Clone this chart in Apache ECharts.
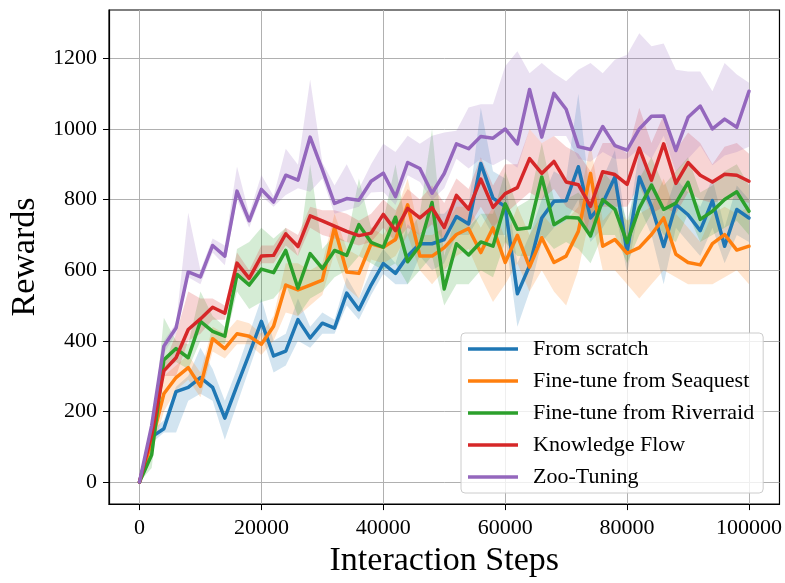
<!DOCTYPE html>
<html>
<head>
<meta charset="utf-8">
<script src="https://cdn.jsdelivr.net/npm/echarts@6/dist/echarts.min.js"></script>
<style>
  body { margin: 0; background: #fff; }
  #chart { width: 785px; height: 583px; }
</style>
</head>
<body>
<div id="chart"></div>
<script>
// interaction steps (x)
const steps = [0, 2000, 4000, 6000, 8000, 10000, 12000, 14000, 16000, 18000,
  20000, 22000, 24000, 26000, 28000, 30000, 32000, 34000, 36000, 38000,
  40000, 42000, 44000, 46000, 48000, 50000, 52000, 54000, 56000, 58000,
  60000, 62000, 64000, 66000, 68000, 70000, 72000, 74000, 76000, 78000,
  80000, 82000, 84000, 86000, 88000, 90000, 92000, 94000, 96000, 98000, 100000];
const xTicks = [0, 20000, 40000, 60000, 80000, 100000];
const yTicks = [0, 200, 400, 600, 800, 1000, 1200];

// From scratch
const scratch = [0, 128, 151, 256, 268, 296, 268, 181, 273, 362, 455, 357, 371, 460, 408, 450, 436, 535, 488, 558,
  619, 591, 640, 675, 675, 687, 752, 731, 902, 804, 780, 533, 613, 748, 795, 797, 893, 748, 790, 864,
  650, 864, 781, 667, 786, 757, 712, 797, 668, 772, 748];
const scratchLo = [0, 110, 140, 140, 230, 250, 230, 120, 220, 320, 420, 310, 330, 400, 380, 420, 420, 500, 460, 530,
  590, 560, 560, 640, 600, 620, 700, 700, 760, 700, 700, 440, 540, 680, 720, 740, 800, 680, 720, 780,
  590, 780, 700, 560, 720, 680, 640, 720, 620, 700, 680];
const scratchHi = [0, 145, 175, 270, 300, 380, 320, 230, 320, 420, 520, 400, 420, 520, 440, 480, 460, 580, 520, 600,
  660, 620, 730, 700, 760, 760, 800, 780, 1060, 880, 860, 620, 700, 800, 880, 860, 1100, 800, 860, 940,
  710, 940, 860, 760, 860, 820, 780, 860, 720, 840, 800];

// Fine-tune from Seaquest
const seaquest = [0, 114, 250, 296, 324, 271, 406, 378, 420, 413, 390, 441, 558, 544, 558, 572, 721, 595, 591, 675,
  665, 687, 785, 640, 640, 664, 701, 718, 650, 720, 622, 699, 609, 692, 622, 640, 710, 874, 668, 687,
  648, 664, 701, 748, 645, 622, 615, 675, 701, 657, 668];
const seaquestLo = [0, 80, 200, 260, 290, 240, 370, 350, 390, 390, 360, 400, 480, 470, 500, 530, 650, 550, 520, 630,
  620, 640, 700, 600, 560, 600, 640, 660, 580, 510, 560, 620, 540, 600, 540, 500, 600, 760, 600, 600,
  560, 520, 560, 600, 580, 560, 560, 560, 580, 600, 560];
const seaquestHi = [0, 140, 300, 330, 360, 310, 440, 420, 460, 450, 420, 470, 620, 620, 600, 620, 760, 660, 640, 720,
  700, 760, 860, 700, 700, 720, 780, 780, 720, 780, 690, 780, 700, 760, 720, 740, 780, 960, 740, 780,
  740, 760, 780, 860, 760, 720, 680, 760, 780, 760, 780];

// Fine-tune from Riverraid
const riverraid = [0, 77, 346, 378, 352, 455, 427, 413, 588, 558, 603, 593, 656, 549, 647, 605, 656, 642, 729, 679,
  665, 750, 624, 670, 792, 547, 675, 643, 680, 668, 788, 716, 720, 864, 729, 750, 748, 697, 800, 772,
  678, 776, 841, 772, 790, 849, 744, 767, 800, 822, 767];
const riverraidLo = [0, 40, 320, 340, 320, 400, 400, 390, 540, 490, 510, 520, 560, 470, 520, 540, 580, 600, 640, 620,
  600, 620, 560, 600, 640, 500, 560, 560, 600, 580, 680, 640, 640, 700, 660, 680, 660, 620, 700, 700,
  620, 700, 760, 700, 680, 760, 680, 700, 720, 740, 700];
const riverraidHi = [0, 110, 465, 400, 390, 540, 470, 440, 660, 680, 720, 690, 720, 640, 900, 660, 700, 680, 860, 720,
  740, 900, 700, 760, 1000, 640, 760, 720, 760, 760, 880, 780, 800, 960, 800, 800, 820, 780, 880, 840,
  740, 860, 920, 840, 880, 920, 820, 840, 880, 900, 840];

// Knowledge Flow
const knowledge = [0, 133, 315, 352, 432, 462, 495, 478, 620, 577, 640, 642, 703, 667, 754, 740, 725, 710, 698, 705,
  758, 712, 775, 748, 777, 721, 812, 773, 858, 778, 817, 834, 916, 874, 908, 850, 842, 781, 879, 871,
  843, 946, 855, 958, 846, 905, 869, 850, 872, 869, 852];
const knowledgeLo = [0, 115, 300, 300, 400, 420, 460, 460, 590, 560, 620, 620, 670, 640, 720, 700, 690, 680, 670, 680,
  720, 680, 720, 700, 730, 680, 760, 720, 780, 720, 760, 790, 820, 800, 830, 780, 760, 700, 780, 780,
  780, 840, 760, 780, 760, 820, 800, 790, 800, 800, 790];
const knowledgeHi = [0, 150, 330, 420, 540, 520, 520, 500, 650, 600, 670, 670, 720, 700, 780, 770, 770, 760, 740, 760,
  800, 770, 830, 800, 840, 790, 860, 830, 920, 840, 900, 900, 1000, 960, 980, 950, 930, 880, 960, 960,
  930, 1060, 960, 1040, 940, 990, 960, 900, 950, 960, 930];

// Zoo-Tuning
const zoo = [0, 160, 385, 436, 595, 581, 670, 640, 824, 740, 829, 793, 869, 855, 977, 885, 789, 803, 798, 852,
  875, 808, 905, 888, 818, 874, 958, 944, 979, 974, 1000, 958, 1112, 977, 1101, 1056, 950, 942, 1007, 953,
  940, 1000, 1036, 1037, 939, 1033, 1065, 1000, 1028, 1005, 1107];
const zooLo = [0, 150, 365, 420, 580, 560, 650, 614, 800, 720, 810, 780, 813, 832, 822, 860, 760, 770, 780, 820,
  822, 785, 869, 850, 799, 832, 916, 888, 916, 897, 916, 890, 1000, 960, 980, 980, 916, 907, 935, 916,
  916, 944, 916, 981, 879, 916, 953, 897, 925, 935, 950];
const zooHi = [0, 170, 400, 450, 763, 600, 690, 670, 894, 760, 870, 810, 944, 899, 1140, 905, 840, 900, 830, 900,
  958, 935, 981, 958, 981, 990, 995, 1061, 1070, 1070, 1178, 1220, 1158, 1187, 1158, 1135, 1168, 1187, 1158, 1196,
  1210, 1271, 1234, 1242, 1168, 1163, 1163, 1107, 1187, 1154, 1131];

const runs = [
  { name: 'From scratch', color: '#1f77b4', mean: scratch, lo: scratchLo, hi: scratchHi },
  { name: 'Fine-tune from Seaquest', color: '#ff7f0e', mean: seaquest, lo: seaquestLo, hi: seaquestHi },
  { name: 'Fine-tune from Riverraid', color: '#2ca02c', mean: riverraid, lo: riverraidLo, hi: riverraidHi },
  { name: 'Knowledge Flow', color: '#d62728', mean: knowledge, lo: knowledgeLo, hi: knowledgeHi },
  { name: 'Zoo-Tuning', color: '#9467bd', mean: zoo, lo: zooLo, hi: zooHi }
];

const font = 'Liberation Serif, Times New Roman, serif';
const series = [];

// shaded bands: one polygon per run, drawn through the axis scales
runs.forEach(function (r) {
  series.push({
    name: r.name + ' band', type: 'custom', silent: true, clip: true,
    data: steps.map(function (x, i) { return [x, r.lo[i], r.hi[i]]; }),
    encode: { x: 0, y: [1, 2] },
    renderItem: function (params, api) {
      if (params.dataIndex !== 0) return null;
      const pts = [];
      for (let i = 0; i < steps.length; i++) pts.push(api.coord([steps[i], r.hi[i]]));
      for (let i = steps.length - 1; i >= 0; i--) pts.push(api.coord([steps[i], r.lo[i]]));
      return {
        type: 'polygon',
        shape: { points: pts },
        style: { fill: r.color, opacity: 0.2 }
      };
    }
  });
});

// mean curves
runs.forEach(function (r) {
  series.push({
    name: r.name, type: 'line', symbol: 'none', color: r.color,
    itemStyle: { color: r.color },
    lineStyle: { color: r.color, width: 3.5, join: 'round', cap: 'round' },
    data: steps.map(function (x, i) { return [x, r.mean[i]]; })
  });
});

const plain = function (v) { return String(v); };

const chart = echarts.init(document.getElementById('chart'));
chart.setOption({
  animation: false,
  grid: {
    left: 109, right: 4, top: 10, bottom: 73,
    show: true, borderColor: '#000', borderWidth: 1.2
  },
  legend: {
    data: runs.map(function (r) { return r.name; }),
    orient: 'vertical',
    left: 461, top: 333,
    icon: 'rect', itemWidth: 50, itemHeight: 3.5, itemGap: 10,
    padding: [5, 9, 5, 7],
    backgroundColor: 'rgba(255,255,255,0.8)',
    borderColor: '#cccccc', borderWidth: 1, borderRadius: 4,
    textStyle: { fontFamily: font, fontSize: 22, color: '#000', padding: [0, 0, 0, 10] }
  },
  xAxis: {
    type: 'value', min: -5000, max: 105000,
    minInterval: 20000, maxInterval: 20000,
    name: 'Interaction Steps', nameLocation: 'middle', nameGap: 39,
    nameTextStyle: { fontFamily: font, fontSize: 34, color: '#000' },
    axisLine: { show: true, onZero: false, lineStyle: { color: '#000', width: 1.2 } },
    axisTick: { show: true, length: 6, customValues: xTicks, lineStyle: { color: '#000' } },
    axisLabel: { customValues: xTicks, formatter: plain, margin: 13, fontFamily: font, fontSize: 22, color: '#000' },
    splitLine: { show: true, lineStyle: { color: '#b0b0b0', width: 1 } }
  },
  yAxis: {
    type: 'value', min: -62.5, max: 1337,
    minInterval: 200, maxInterval: 200,
    name: 'Rewards', nameLocation: 'middle', nameGap: 58,
    nameTextStyle: { fontFamily: font, fontSize: 34, color: '#000' },
    axisLine: { show: true, onZero: false, lineStyle: { color: '#000', width: 1.2 } },
    axisTick: { show: true, length: 6, customValues: yTicks, lineStyle: { color: '#000' } },
    axisLabel: { customValues: yTicks, formatter: plain, margin: 12, fontFamily: font, fontSize: 22, color: '#000' },
    splitLine: { show: true, lineStyle: { color: '#b0b0b0', width: 1 } }
  },
  series: series
});
</script>
</body>
</html>
